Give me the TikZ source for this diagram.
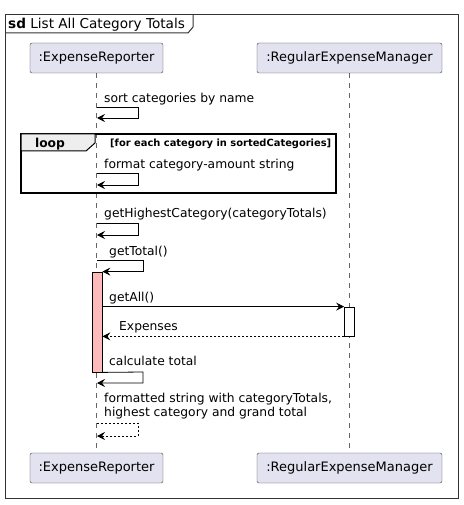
\documentclass[tikz,border=0pt]{standalone}
\usepackage{fontspec}
\setmainfont{DejaVu Sans}
\usetikzlibrary{arrows.meta}
\definecolor{partfill}{HTML}{E2E2F0}
\definecolor{actfill}{HTML}{FFBBBB}
\definecolor{tabfill}{HTML}{EEEEEE}
\tikzset{
	participant/.style={draw=black!75,fill=partfill,rounded corners=2pt,minimum height=30pt,inner sep=0pt,font=\fontsize{13}{16}\selectfont},
	lifeline/.style={draw=black!60,dash pattern=on 5pt off 5pt,line width=0.6pt},
	msg/.style={line width=0.8pt,-{Stealth[length=8pt,width=8pt,inset=3pt]}},
	reply/.style={msg,dash pattern=on 2pt off 2pt},
	msgtext/.style={anchor=base west,inner sep=0pt,font=\fontsize{12.3}{14}\selectfont},
	actbar/.style={draw,line width=0.8pt,minimum width=10pt,inner sep=0pt}
}
\begin{document}
\begin{tikzpicture}[x=1pt,y=-1pt]
					\useasboundingbox (0,0) rectangle (463,505);
					% outer frame and title tab
					\draw [line width=1pt,draw=black!80] (5,15) rectangle (458,498);
					\draw [line width=1pt,draw=black!80] (5,33) -- (188,33) -- (193,27) -- (193,15);
					\node [anchor=base west,inner sep=0pt,font=\fontsize{13.6}{16}\selectfont] (title) at (8,28.5) {\textbf{sd} List All Category Totals};
					% participants
					\node [participant,minimum width=133pt] (erTop) at (96.5,58) {:ExpenseReporter};
					\node [participant,minimum width=185pt] (rmTop) at (349.5,58) {:RegularExpenseManager};
					\node [participant,minimum width=133pt] (erBot) at (96.5,468) {:ExpenseReporter};
					\node [participant,minimum width=185pt] (rmBot) at (349.5,468) {:RegularExpenseManager};
					\draw [lifeline] (erTop) -- (erBot);
					\draw [lifeline] (rmTop) -- (rmBot);
					% loop frame
					\draw [line width=1.5pt] (21,134) rectangle (336,193);
					\draw [line width=1pt,fill=tabfill] (21,134) -- (95,134) -- (95,143) -- (86,151) -- (21,151) -- cycle;
					\node [anchor=base,inner sep=0pt,font=\bfseries\fontsize{12.3}{14}\selectfont] (loop) at (50,148) {loop};
					\node [anchor=base west,inner sep=0pt,font=\bfseries\fontsize{9.9}{12}\selectfont] (guard) at (110,146.5) {[for each category in sortedCategories]};
					% self messages
					\coordinate (m1) at (97,107);
					\coordinate (m1e) at (97,118);
					\node [msgtext] (t1) at (104,103) {sort categories by name};
					\draw [msg] (m1) -- (138,107) -- (138,118) -- (m1e);
					\coordinate (m2) at (97,173);
					\coordinate (m2e) at (97,185);
					\node [msgtext] (t2) at (104,168) {format category-amount string};
					\draw [msg] (m2) -- (138,173) -- (138,185) -- (m2e);
					\coordinate (m3) at (97,223);
					\coordinate (m3e) at (97,235);
					\node [msgtext] (t3) at (104,217) {getHighestCategory(categoryTotals)};
					\draw [msg] (m3) -- (138,223) -- (138,235) -- (m3e);
					% activations
					\node [actbar,fill=actfill,minimum height=100pt] (erAct) at (97,322) {};
					\node [actbar,fill=white,minimum height=29pt] (rmAct) at (349.5,321.5) {};
					\coordinate (m4) at (97,260);
					\node [msgtext] (t4) at (109,255) {getTotal()};
					\draw [msg] (m4) -- (143,260) |- (erAct.north east);
					\node [msgtext] (t5) at (109,301.5) {getAll()};
					\draw [msg] (erAct.east |- rmAct.north) -- (rmAct.north west);
					\node [msgtext] (t6) at (119,330.5) {Expenses};
					\draw [reply] (rmAct.south west) -- (erAct.east |- rmAct.south);
					\coordinate (m7e) at (97,383);
					\node [msgtext] (t7) at (109,365.5) {calculate total};
					\draw [msg] (erAct.south east) -- (143,372) |- (m7e);
					\coordinate (m8) at (97,423);
					\coordinate (m8e) at (97,436);
					\node [msgtext] (t8) at (104,402.5) {formatted string with categoryTotals,};
					\node [msgtext] (t9) at (104,416.5) {highest category and grand total};
					\draw [reply] (m8) -- (138,423) -- (138,436) -- (m8e);
				\end{tikzpicture}
\end{document}
